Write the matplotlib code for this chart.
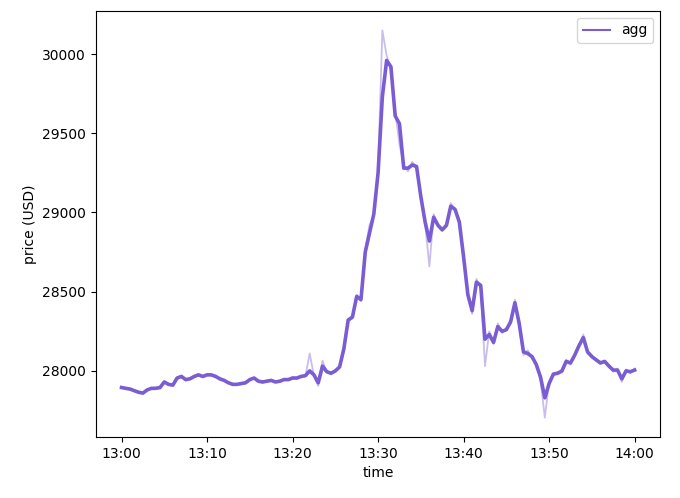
import matplotlib.pyplot as plt
import matplotlib.dates as mdates
import numpy as np
import pandas as pd


# minutes after 13:00, sampled every 30 s
minutes = np.arange(0, 60.5, 0.5)

agg = [
    27895, 27890, 27885, 27875, 27865, 27860, 27880, 27890, 27890, 27895,
    27930, 27915, 27910, 27955, 27965, 27945, 27950, 27965, 27975, 27965,
    27975, 27975, 27965, 27950, 27940, 27925, 27915, 27915, 27920, 27925,
    27945, 27955, 27935, 27930, 27935, 27940, 27930, 27935, 27945, 27945,
    27955, 27955, 27965, 27970, 28000, 27975, 27925, 28030, 27995, 27985,
    28000, 28025, 28140, 28320, 28340, 28470, 28450, 28750, 28870, 28990,
    29250, 29730, 29960, 29920, 29610, 29560, 29280, 29280, 29300, 29290,
    29100, 28940, 28820, 28970, 28920, 28890, 28920, 29040, 29020, 28940,
    28720, 28480, 28380, 28560, 28540, 28200, 28230, 28180, 28280, 28250,
    28260, 28310, 28430, 28300, 28120, 28110, 28090, 28040, 27960, 27830,
    27920, 27980, 27985, 28000, 28060, 28050, 28100, 28160, 28210, 28120,
    28090, 28070, 28050, 28060, 28030, 28005, 28005, 27950, 28000, 27995,
    28005,
]

# a single exchange feed, drawn faintly behind the aggregate
exchange = [
    27900, 27885, 27890, 27870, 27870, 27855, 27885, 27885, 27895, 27890,
    27935, 27910, 27915, 27950, 27970, 27940, 27955, 27960, 27980, 27960,
    27980, 27970, 27970, 27945, 27945, 27920, 27920, 27910, 27925, 27920,
    27950, 27950, 27940, 27925, 27940, 27935, 27935, 27930, 27950, 27940,
    27960, 27950, 27970, 27965, 28110, 27970, 27905, 28065, 27990, 27990,
    27995, 28030, 28130, 28330, 28330, 28480, 28440, 28770, 28920, 28980,
    29270, 30150, 29990, 29900, 29640, 29430, 29300, 29260, 29320, 29280,
    29120, 28930, 28660, 28990, 28910, 28900, 28910, 29060, 29010, 28950,
    28700, 28500, 28360, 28580, 28520, 28030, 28250, 28170, 28300, 28240,
    28270, 28300, 28450, 28280, 28100, 28130, 28080, 28050, 27940, 27705,
    27930, 27970, 27995, 27990, 28070, 28040, 28110, 28150, 28230, 28110,
    28100, 28060, 28060, 28050, 28040, 27995, 28015, 27930, 28010, 27985,
    28015,
]

times = pd.Timestamp("2023-01-01 13:00") + pd.to_timedelta(minutes, unit="m")

color = "#7a5cd3"

fig, ax = plt.subplots(figsize=(6.8, 4.98), dpi=100)
fig.subplots_adjust(left=0.141, right=0.971, top=0.978, bottom=0.1225)

ax.plot(times, exchange, color=color, alpha=0.4, linewidth=1.3)
ax.plot(times, agg, color=color, linewidth=2.6, label="agg")

ax.xaxis.set_major_locator(mdates.MinuteLocator(byminute=range(0, 60, 10)))
ax.xaxis.set_major_formatter(mdates.DateFormatter("%H:%M"))
ax.set_xlabel("time")
ax.set_ylabel("price (USD)")

leg = ax.legend(loc="upper right")
for line in leg.get_lines():
    line.set_linewidth(1.5)

fig.savefig("out.png", dpi=100)
